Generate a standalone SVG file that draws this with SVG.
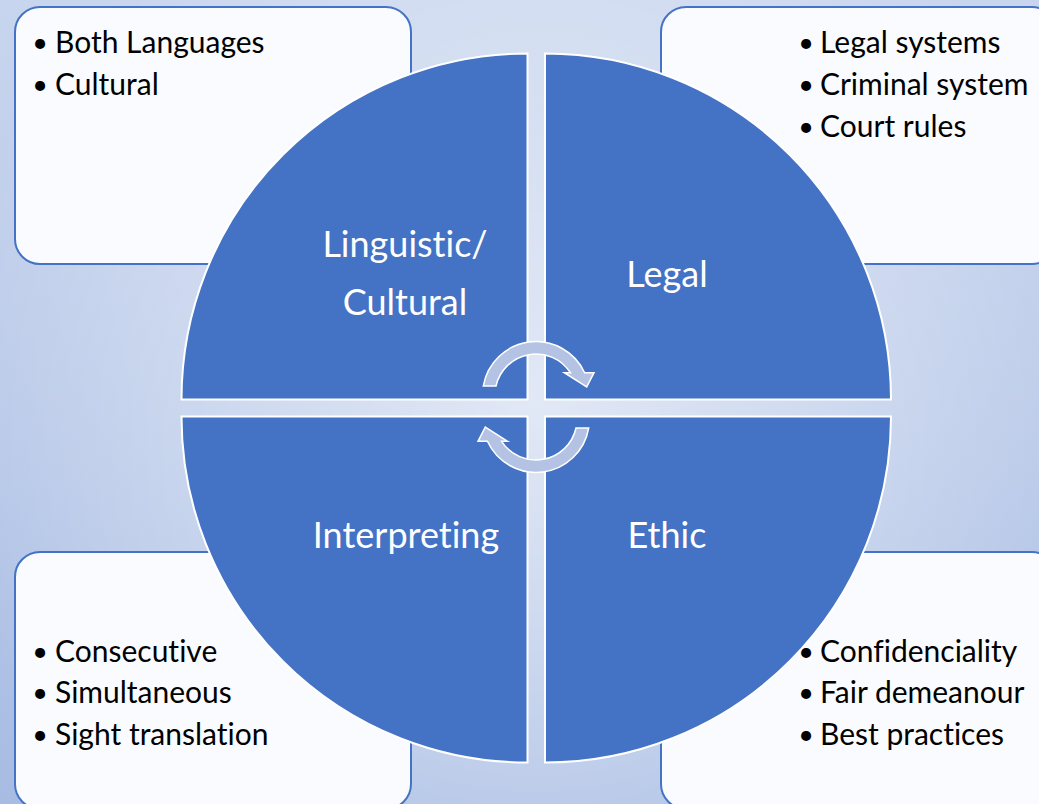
<svg xmlns="http://www.w3.org/2000/svg" width="1039" height="804" viewBox="0 0 1039 804">
  <defs>
    <linearGradient id="bgFade" x1="0" y1="0" x2="0" y2="1">
      <stop offset="0" stop-color="#c8d5ee"/>
      <stop offset="1" stop-color="#a8bce3"/>
    </linearGradient>
    <radialGradient id="bgGlow" gradientUnits="userSpaceOnUse" cx="536" cy="408" r="600">
      <stop offset="0" stop-color="#ffffff" stop-opacity="0.58"/>
      <stop offset="0.6" stop-color="#ffffff" stop-opacity="0.26"/>
      <stop offset="1" stop-color="#ffffff" stop-opacity="0"/>
    </radialGradient>
    <style>
      .box { fill: #fafbfe; stroke: #4472c4; stroke-width: 2; }
      .quad { fill: #4472c4; stroke: #ffffff; stroke-width: 2; }
      .cycle { fill: #b4c3e4; stroke: #ffffff; stroke-width: 1.5; stroke-linejoin: miter; }
      text { font-family: Lato, "Liberation Sans", sans-serif; font-variant-ligatures: none; font-feature-settings: "liga" 0, "dlig" 0; }
      .item { font-size: 30px; fill: #000000; }
      .dot { font-size: 27px; fill: #000000; text-anchor: middle; }
      .label { font-size: 36px; fill: #ffffff; text-anchor: middle; }
    </style>
  </defs>

  <!-- backdrop -->
  <rect x="0" y="0" width="1039" height="804" fill="url(#bgFade)"/>
  <rect x="0" y="0" width="1039" height="804" fill="url(#bgGlow)"/>

  <!-- detail boxes -->
  <g id="box-linguistic">
    <rect class="box" x="15" y="7" width="396" height="257" rx="25" ry="25"/>
    <text class="dot" x="40" y="52">•</text><text class="item" x="55" y="53">Both Languages</text>
    <text class="dot" x="40" y="94">•</text><text class="item" x="55" y="95">Cultural</text>
  </g>
  <g id="box-legal">
    <rect class="box" x="661" y="7" width="396" height="257" rx="25" ry="25"/>
    <text class="dot" x="806" y="52">•</text><text class="item" x="820" y="53">Legal systems</text>
    <text class="dot" x="806" y="94">•</text><text class="item" x="820" y="95">Criminal system</text>
    <text class="dot" x="806" y="136">•</text><text class="item" x="820" y="137">Court rules</text>
  </g>
  <g id="box-interpreting">
    <rect class="box" x="15" y="552" width="396" height="257" rx="25" ry="25"/>
    <text class="dot" x="40" y="661">•</text><text class="item" x="55" y="662">Consecutive</text>
    <text class="dot" x="40" y="702">•</text><text class="item" x="55" y="703">Simultaneous</text>
    <text class="dot" x="40" y="744">•</text><text class="item" x="55" y="745">Sight translation</text>
  </g>
  <g id="box-ethic">
    <rect class="box" x="661" y="552" width="396" height="257" rx="25" ry="25"/>
    <text class="dot" x="806" y="661">•</text><text class="item" x="820" y="662">Confidenciality</text>
    <text class="dot" x="806" y="702">•</text><text class="item" x="820" y="703">Fair demeanour</text>
    <text class="dot" x="806" y="744">•</text><text class="item" x="820" y="745">Best practices</text>
  </g>

  <!-- quadrants of the central disc -->
  <g id="quad-linguistic">
    <path class="quad" d="M527.5 399.5 L181.5 399.5 A346 346 0 0 1 527.5 53.5 Z"/>
    <text class="label" x="405" y="257">Linguistic/</text>
    <text class="label" x="405" y="315">Cultural</text>
  </g>
  <g id="quad-legal">
    <path class="quad" d="M545 399.5 L545 53.5 A346 346 0 0 1 891 399.5 Z"/>
    <text class="label" x="667" y="287">Legal</text>
  </g>
  <g id="quad-ethic">
    <path class="quad" d="M545 416.5 L891 416.5 A346 346 0 0 1 545 762.5 Z"/>
    <text class="label" x="667" y="548">Ethic</text>
  </g>
  <g id="quad-interpreting">
    <path class="quad" d="M527.5 416.5 L527.5 762.5 A346 346 0 0 1 181.5 416.5 Z"/>
    <text class="label" x="406" y="548">Interpreting</text>
  </g>

  <!-- cycle arrows linking the quadrants -->
  <g id="connectors">
    <path id="cycle-top" class="cycle" d="M483.3 386 A53.5 53.5 0 0 1 584.6 372.7 L594 372.7 L586.7 387 L564.3 372.7 L570.4 372.7 A41 41 0 0 0 496 386 Z"/>
    <path id="cycle-bottom" class="cycle" transform="rotate(180 536 407)" d="M483.3 386 A53.5 53.5 0 0 1 584.6 372.7 L594 372.7 L586.7 387 L564.3 372.7 L570.4 372.7 A41 41 0 0 0 496 386 Z"/>
  </g>
</svg>
